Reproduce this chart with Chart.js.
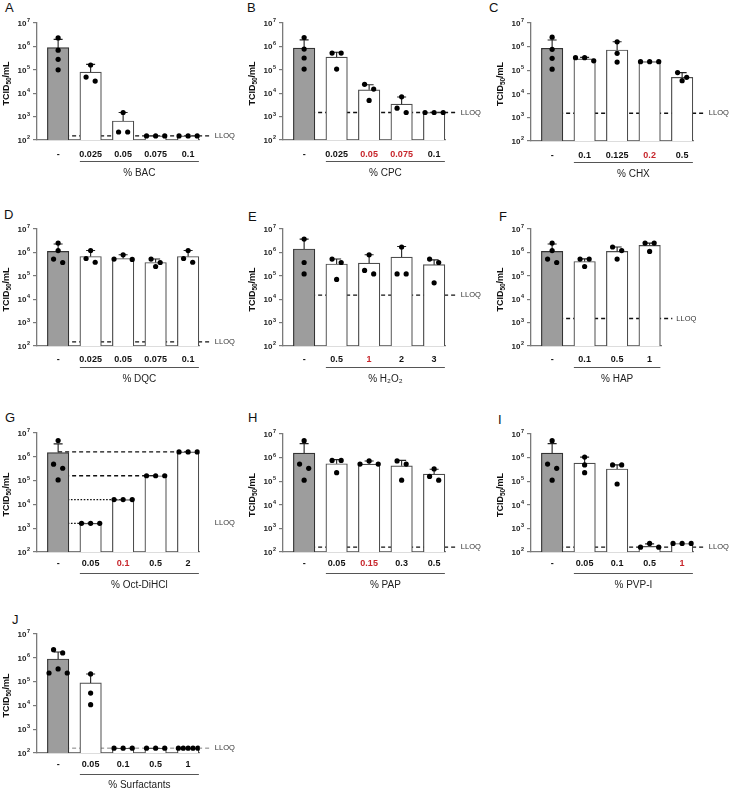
<!DOCTYPE html>
<html>
<head>
<meta charset="utf-8">
<title>TCID50 panels</title>
<script src="https://cdn.jsdelivr.net/npm/chart.js@4.4.1/dist/chart.umd.min.js"></script>
<style>
  html, body { margin: 0; padding: 0; background: #fff; }
  body { position: relative; width: 729px; height: 789px; overflow: hidden; font-family: 'Liberation Sans', Arial, sans-serif; }
  canvas { position: absolute; }
  .tag { position: absolute; font-size: 13px; line-height: 13px; color: #111; }
</style>
</head>
<body>
<div class="tag" style="left:5px;top:1px">A</div>
<div class="tag" style="left:247px;top:1px">B</div>
<div class="tag" style="left:489px;top:1px">C</div>
<div class="tag" style="left:4px;top:208px">D</div>
<div class="tag" style="left:248px;top:210px">E</div>
<div class="tag" style="left:499px;top:210px">F</div>
<div class="tag" style="left:5px;top:411px">G</div>
<div class="tag" style="left:248px;top:411px">H</div>
<div class="tag" style="left:498px;top:413px">I</div>
<div class="tag" style="left:12px;top:613px">J</div>
<script>
// values (TCID50/mL), one set of arrays per panel
const bacLabels = ['-', '0.025', '0.05', '0.075', '0.1'];
const bacRed = [];
const bacMeans = [8.8e5, 8e4, 6.5e2, 1.5e2, 1.5e2];
const bacErr = [2e6, 1.7e5, 1.5e3, null, null];
const bacPoints = [[2.3e6, 6.9e5, 2.8e5, 1.0e5], [1.6e5, 4.9e4, 3.3e4], [1.5e3, 2.2e2, 2.2e2], [1.5e2, 1.5e2, 1.5e2], [1.5e2, 1.5e2, 1.5e2]];
const bacLloq = 1.5e2;

const cpcLabels = ['-', '0.025', '0.05', '0.075', '0.1'];
const cpcRed = [2, 3];
const cpcMeans = [8.5e5, 3.5e5, 1.4e4, 3.4e3, 1.5e3];
const cpcErr = [1.9e6, 5.6e5, 2.3e4, 6.9e3, null];
const cpcPoints = [[2.4e6, 7.7e5, 3.2e5, 1.07e5], [5.2e5, 5.2e5, 1.07e5], [2.4e4, 1.5e4, 4.9e3], [7e3, 2.3e3, 1.5e3], [1.5e3, 1.5e3, 1.5e3]];
const cpcLloq = 1.5e3;

const chxLabels = ['-', '0.1', '0.125', '0.2', '0.5'];
const chxRed = [3];
const chxMeans = [8.5e5, 3e5, 7.2e5, 2.3e5, 5e4];
const chxErr = [1.9e6, 3.5e5, 1.6e6, null, 7.9e4];
const chxPoints = [[2.5e6, 7.7e5, 3.2e5, 1.1e5], [2.5e5, 3.4e5, 3.4e5], [1.6e6, 5.2e5, 2.2e5], [2.3e5, 2.3e5, 2.3e5], [7.9e4, 3.6e4, 5e4]];
const chxLloq = 1.5e3;

const dqcLabels = ['-', '0.025', '0.05', '0.075', '0.1'];
const dqcRed = [];
const dqcMeans = [1.1e6, 6.7e5, 5.5e5, 3.7e5, 6.7e5];
const dqcErr = [2.3e6, 1.2e6, 7.9e5, 5.2e5, 1.2e6];
const dqcPoints = [[2.5e6, 1.2e6, 3.7e5, 5.2e5], [1.2e6, 3.8e5, 5.5e5], [7.9e5, 5e5, 5.2e5], [5.2e5, 2.5e5, 3.7e5], [1.2e6, 3.8e5, 5.5e5]];
const dqcLloq = 1.5e2;

const h2o2Labels = ['-', '0.5', '1', '2', '3'];
const h2o2Red = [2];
const h2o2Means = [1.4e6, 3.2e5, 3.5e5, 6.3e5, 3e5];
const h2o2Err = [3.7e6, 5.2e5, 7.9e5, 1.8e6, 4.8e5];
const h2o2Points = [[3.7e6, 3.7e5, 1.2e5], [5.2e5, 3.7e5, 7e4], [7.9e5, 1.2e5, 1.7e5], [1.7e6, 1.2e5, 1.2e5], [5.2e5, 3.7e5, 5e4]];
const h2o2Lloq = 1.5e4;

const hapLabels = ['-', '0.1', '0.5', '1'];
const hapRed = [];
const hapMeans = [1.1e6, 4.1e5, 1.1e6, 2e6];
const hapErr = [2.3e6, 5.3e5, 1.7e6, 2.5e6];
const hapPoints = [[2.5e6, 1.2e6, 3.7e5, 5.2e5], [5.2e5, 5.2e5, 2.5e5], [1.7e6, 1.2e6, 5.2e5], [2.5e6, 2.5e6, 1.1e6]];
const hapLloq = 1.5e3;

const octLabels = ['-', '0.05', '0.1', '0.5', '2'];
const octRed = [2];
const octMeans = [1.5e6, 1.6e3, 1.6e4, 1.6e5, 1.6e6];
const octErr = [3.5e6, null, null, null, null];
const octPoints = [[4.8e6, 4.9e5, 3.3e5, 1.07e5], [1.6e3, 1.6e3, 1.6e3], [1.6e4, 1.6e4, 1.6e4], [1.6e5, 1.6e5, 1.6e5], [1.6e6, 1.6e6, 1.6e6]];
const octLloq = [null, 1.6e3, 1.6e4, 1.6e5, 1.6e6];

const papLabels = ['-', '0.05', '0.15', '0.3', '0.5'];
const papRed = [2];
const papMeans = [1.55e6, 5.5e5, 5.3e5, 4.5e5, 2e5];
const papErr = [3.9e6, 8.2e5, 7.2e5, 7.6e5, 3.2e5];
const papPoints = [[5.2e6, 5.3e5, 3.5e5, 1.1e5], [7.6e5, 7.6e5, 2.3e5], [7.2e5, 5.3e5, 5.3e5], [7.2e5, 5.3e5, 1.1e5], [3.3e5, 1.1e5, 1.6e5]];
const papLloq = 1.6e2;

const pvpLabels = ['-', '0.05', '0.1', '0.5', '1'];
const pvpRed = [4];
const pvpMeans = [1.55e6, 5.8e5, 3.3e5, 1.75e2, 2.3e2];
const pvpErr = [3.9e6, 1.05e6, 4.9e5, 2.2e2, null];
const pvpPoints = [[5.2e6, 5.3e5, 3.5e5, 1.1e5], [1.05e6, 4.9e5, 2.3e5], [4.9e5, 4.9e5, 7.6e4], [1.6e2, 2.3e2, 1.6e2], [2.3e2, 2.3e2, 2.3e2]];
const pvpLloq = 1.6e2;

const surfLabels = ['-', '0.05', '0.1', '0.5', '1'];
const surfRed = [];
const surfMeans = [8.9e5, 8.8e4, 1.6e2, 1.6e2, 1.6e2];
const surfErr = [1.75e6, 2.1e5, null, null, null];
const surfPoints = [[2.2e6, 1.6e6, 3.4e5, 2.3e5, 2.3e5], [2.1e5, 3.3e4, 1.07e4], [1.6e2, 1.6e2, 1.6e2], [1.6e2, 1.6e2, 1.6e2], [1.6e2, 1.6e2, 1.6e2, 1.6e2, 1.6e2]];
const surfLloq = 1.6e2;

const yExponents = [2, 3, 4, 5, 6, 7];

const panels = [
  { title: '% BAC', labels: bacLabels, red: bacRed, means: bacMeans, err: bacErr, points: bacPoints, lloq: bacLloq, ax: 37, y7: 23, y2: 140, row: 0 },
  { title: '% CPC', labels: cpcLabels, red: cpcRed, means: cpcMeans, err: cpcErr, points: cpcPoints, lloq: cpcLloq, ax: 283, y7: 23, y2: 140, row: 0 },
  { title: '% CHX', labels: chxLabels, red: chxRed, means: chxMeans, err: chxErr, points: chxPoints, lloq: chxLloq, ax: 531, y7: 23, y2: 141, row: 0, w: 235 },
  { title: '% DQC', labels: dqcLabels, red: dqcRed, means: dqcMeans, err: dqcErr, points: dqcPoints, lloq: dqcLloq, ax: 37, y7: 229, y2: 346, row: 1 },
  { title: '% H\u2082O\u2082', labels: h2o2Labels, red: h2o2Red, means: h2o2Means, err: h2o2Err, points: h2o2Points, lloq: h2o2Lloq, ax: 283, y7: 229, y2: 346, row: 1 },
  { title: '% HAP', labels: hapLabels, red: hapRed, means: hapMeans, err: hapErr, points: hapPoints, lloq: hapLloq, ax: 531, y7: 229, y2: 346, row: 1, w: 235 },
  { title: '% Oct-DiHCl', labels: octLabels, red: octRed, means: octMeans, err: octErr, points: octPoints, lloq: octLloq, ax: 37, y7: 433, y2: 552, row: 2 },
  { title: '% PAP', labels: papLabels, red: papRed, means: papMeans, err: papErr, points: papPoints, lloq: papLloq, ax: 283, y7: 434, y2: 552, row: 2 },
  { title: '% PVP-I', labels: pvpLabels, red: pvpRed, means: pvpMeans, err: pvpErr, points: pvpPoints, lloq: pvpLloq, ax: 531, y7: 434, y2: 552, row: 2, w: 235 },
  { title: '% Surfactants', labels: surfLabels, red: surfRed, means: surfMeans, err: surfErr, points: surfPoints, lloq: surfLloq, ax: 37, y7: 634, y2: 753, row: 3, lloqColor: '#808080' }
];

const FONT = "'Liberation Sans', Arial, sans-serif";
const RED = '#c7262c';
const AXIS = '#7a7a7a';
const tickGap = [15, 13.5, 12, 11.5];
const BAR = 21.5;

// Prism-like scatter: values that sit close together get spread sideways
function spread(vals) {
  const order = vals.map((v, i) => i).sort((a, b) => vals[b] - vals[a]);
  const offs = vals.map(() => 0);
  let k = 0;
  while (k < order.length) {
    const head = Math.log10(vals[order[k]]);
    let j = k;
    while (j < order.length && head - Math.log10(vals[order[j]]) < 0.28) j++;
    const grp = order.slice(k, j);
    const m = grp.length;
    const s = m > 1 ? Math.min(0.28, 0.6 / (m - 1)) : 0;
    const slots = [];
    for (let q = 0; q < m; q++) slots.push((q - (m - 1) / 2) * s);
    slots.sort((a, b) => Math.abs(a) - Math.abs(b) || a - b);
    grp.forEach((g, q) => { offs[g] = slots[q]; });
    k = j;
  }
  return offs;
}

// "10" with a raised exponent, right aligned at x
function drawPower(ctx, exp, x, y) {
  ctx.textBaseline = 'middle';
  ctx.textAlign = 'left';
  ctx.font = 'bold 5.5px ' + FONT;
  const we = ctx.measureText(String(exp)).width;
  ctx.font = 'bold 8px ' + FONT;
  const wb = ctx.measureText('10').width;
  const x0 = x - we - wb - 0.5;
  ctx.fillText('10', x0, y + 0.5);
  ctx.font = 'bold 5.5px ' + FONT;
  ctx.fillText(String(exp), x0 + wb + 0.5, y - 2.5);
}

// rotated axis title with a real subscript
function drawYTitle(ctx, cx, cy) {
  const big = 'bold 9px ' + FONT, small = 'bold 6.5px ' + FONT;
  ctx.save();
  ctx.translate(cx, cy);
  ctx.rotate(-Math.PI / 2);
  ctx.textBaseline = 'middle';
  ctx.textAlign = 'left';
  ctx.font = big;
  const w1 = ctx.measureText('TCID').width;
  const w3 = ctx.measureText('/mL').width;
  ctx.font = small;
  const w2 = ctx.measureText('50').width;
  let x = -(w1 + w2 + w3) / 2;
  ctx.fillStyle = '#111';
  ctx.font = big;
  ctx.fillText('TCID', x, 0);
  x += w1;
  ctx.font = small;
  ctx.fillText('50', x, 2.2);
  x += w2;
  ctx.font = big;
  ctx.fillText('/mL', x, 0);
  ctx.restore();
}

function buildPanel(p) {
  const n = p.labels.length;
  const unit = 32.5, left = 37, top = 23, foot = 45;
  const H = p.y2 - p.y7;
  const W = p.w || 243;
  const right = left + (n - 1 + 0.65 + 0.36) * unit;

  const cv = document.createElement('canvas');
  cv.width = W;
  cv.height = top + H + foot;
  cv.style.left = (p.ax - left) + 'px';
  cv.style.top = (p.y7 - top) + 'px';
  document.body.appendChild(cv);

  const dots = [];
  p.points.forEach((grp, i) => {
    const offs = spread(grp);
    grp.forEach((v, j) => dots.push({ x: i + offs[j], y: v }));
  });

  const overlay = {
    id: 'overlay',
    beforeDatasetsDraw(chart) {
      const { ctx, chartArea, scales } = chart;
      const X = scales.x, Y = scales.y;
      ctx.save();
      ctx.strokeStyle = p.lloqColor || '#111';
      ctx.lineWidth = p.lloqColor ? 1 : 1.3;
      if (Array.isArray(p.lloq)) {
        p.lloq.forEach((v, i) => {
          if (v == null) return;
          ctx.setLineDash(i <= 2 ? [1.6, 1.6] : [4, 3]);
          const y = Y.getPixelForValue(v);
          ctx.beginPath();
          ctx.moveTo(X.getPixelForValue(0), y);
          ctx.lineTo(X.getPixelForValue(i), y);
          ctx.stroke();
        });
      } else {
        ctx.setLineDash([4, 3]);
        const y = Y.getPixelForValue(p.lloq);
        ctx.beginPath();
        ctx.moveTo(X.getPixelForValue(0), y);
        ctx.lineTo(chartArea.right + 11, y);
        ctx.stroke();
      }
      ctx.restore();
    },
    afterDatasetDraw(chart, args) {
      if (args.index !== 1) return;
      const { ctx, scales } = chart;
      ctx.save();
      ctx.strokeStyle = '#222';
      ctx.lineWidth = 1.1;
      p.err.forEach((e, i) => {
        if (e == null || e <= p.means[i]) return;
        const x = scales.x.getPixelForValue(i);
        const y0 = scales.y.getPixelForValue(p.means[i]);
        const y1 = scales.y.getPixelForValue(e);
        ctx.beginPath();
        ctx.moveTo(x, y0); ctx.lineTo(x, y1);
        ctx.moveTo(x - 4.5, y1); ctx.lineTo(x + 4.5, y1);
        ctx.stroke();
      });
      ctx.restore();
    },
    afterDraw(chart) {
      const { ctx, chartArea, scales } = chart;
      const X = scales.x, Y = scales.y;
      const base = chartArea.bottom;
      ctx.save();
      ctx.fillStyle = '#222';
      yExponents.forEach(e => drawPower(ctx, e, chartArea.left - 7, Y.getPixelForValue(Math.pow(10, e))));
      drawYTitle(ctx, 7, (chartArea.top + chartArea.bottom) / 2 + 2);
      ctx.textAlign = 'center';
      ctx.textBaseline = 'middle';
      ctx.font = 'bold 9px ' + FONT;
      p.labels.forEach((lab, i) => {
        ctx.fillStyle = p.red.includes(i) ? RED : '#111';
        ctx.fillText(lab, X.getPixelForValue(i), base + tickGap[p.row]);
      });
      const x1 = X.getPixelForValue(1) - BAR / 2;
      const x2 = X.getPixelForValue(n - 1) + BAR / 2;
      ctx.strokeStyle = '#555';
      ctx.lineWidth = 1;
      ctx.beginPath();
      ctx.moveTo(x1, base + 21.5);
      ctx.lineTo(x2, base + 21.5);
      ctx.stroke();
      ctx.fillStyle = '#222';
      ctx.font = '10px ' + FONT;
      ctx.fillText(p.title, (x1 + x2) / 2, base + (p.row === 3 ? 32 : 33));
      const lv = Array.isArray(p.lloq) ? p.lloq[1] : p.lloq;
      ctx.textAlign = 'left';
      ctx.font = '7.5px ' + FONT;
      ctx.fillStyle = '#333';
      ctx.fillText('LLOQ', chartArea.right + 15, Y.getPixelForValue(lv));
      ctx.restore();
    }
  };

  new Chart(cv, {
    type: 'bar',
    data: {
      datasets: [
        {
          type: 'scatter',
          data: dots,
          order: 0,
          showLine: false,
          pointRadius: 2.6,
          pointBackgroundColor: '#000',
          pointBorderWidth: 0
        },
        {
          type: 'bar',
          data: p.means.map((v, i) => ({ x: i, y: v })),
          order: 1,
          barThickness: BAR,
          backgroundColor: p.means.map((v, i) => i === 0 ? '#9d9d9d' : '#ffffff'),
          borderColor: p.means.map((v, i) => i === 0 ? '#333' : '#4d4d4d'),
          borderWidth: 1.2
        }
      ]
    },
    options: {
      responsive: false,
      animation: false,
      devicePixelRatio: 1,
      events: [],
      layout: { padding: { left: 0, top: top, right: W - right, bottom: 0 } },
      plugins: { legend: { display: false }, tooltip: { enabled: false } },
      scales: {
        x: {
          type: 'linear',
          min: -0.65,
          max: n - 1 + 0.36,
          offset: false,
          grid: { display: false },
          ticks: { display: false },
          border: { color: AXIS, width: 1.3 },
          afterBuildTicks(s) { s.ticks = p.labels.map((l, i) => ({ value: i })); },
          afterFit(s) { s.height = foot; s.paddingLeft = 0; s.paddingRight = 0; }
        },
        y: {
          type: 'logarithmic',
          min: 100,
          max: 1e7,
          beginAtZero: false,
          afterBuildTicks(s) { s.ticks = yExponents.map(e => ({ value: Math.pow(10, e) })); },
          ticks: { display: false },
          grid: { drawOnChartArea: false, tickLength: 4, color: AXIS, lineWidth: 1.2 },
          border: { color: AXIS, width: 1.3 },
          afterFit(s) { s.width = left; s.paddingTop = 0; s.paddingBottom = 0; }
        }
      }
    },
    plugins: [overlay]
  });
}

panels.forEach(buildPanel);
</script>
</body>
</html>
